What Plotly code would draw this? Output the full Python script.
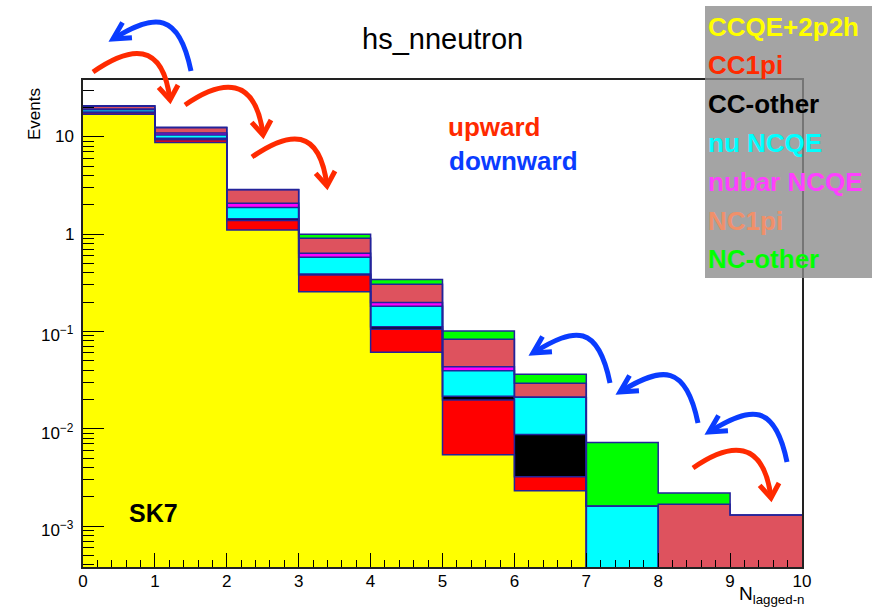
import math
import plotly.graph_objects as go

# ---------------- data ----------------
bin_edges = [0, 1, 2, 3, 4, 5, 6, 7, 8, 9, 10]
bin_centers = [0.5, 1.5, 2.5, 3.5, 4.5, 5.5, 6.5, 7.5, 8.5, 9.5]
ccqe_2p2h  = [17.0, 8.7, 1.10, 0.255, 0.061, 0.0054, 0.0023, 0, 0, 0]
cc1pi      = [0.6, 0.6, 0.28, 0.125, 0.044, 0.0143, 0.0009, 0, 0, 0]
cc_other   = [0.4, 0.35, 0.06, 0.008, 0.0065, 0.0019, 0.0055, 0, 0, 0]
nu_ncqe    = [0.9, 0.75, 0.43, 0.19, 0.070, 0.0178, 0.0124, 0.0016, 0, 0]
nubar_ncqe = [0.4, 0.55, 0.20, 0.057, 0.017, 0.0039, 0.0, 0, 0, 0]
nc1pi      = [1.3, 1.45, 0.78, 0.27, 0.107, 0.0395, 0.0082, 0, 0.00167, 0.0013]
nc_other   = [0.2, 0.1, 0.02, 0.09, 0.036, 0.0179, 0.0069, 0.0056, 0.00052, 0]

names = ["CCQE+2p2h", "CC1pi", "CC-other", "nu NCQE", "nubar NCQE", "NC1pi", "NC-other"]
series = [ccqe_2p2h, cc1pi, cc_other, nu_ncqe, nubar_ncqe, nc1pi, nc_other]
fill_colors = ["#ffff00", "#ff0000", "#000000", "#00ffff", "#ff00ff", "#de525e", "#00ff00"]
legend_colors = ["#ffff00", "#ff2a00", "#000000", "#00ffff", "#ff40ff", "#f0906a", "#00ff00"]

x_ticks = list(range(0, 11))
y_tickvals = [1e-3, 1e-2, 1e-1, 1, 10]
y_ticktext = ["10<sup>−3</sup>", "10<sup>−2</sup>", "10<sup>−1</sup>", "1", "10"]

# ---------------- layout geometry ----------------
W, H = 872, 613
ML, MR, MT, MB = 83, 70, 80, 46
PW = W - ML - MR
PH = H - MT - MB
EDGE = "#23239a"
FONT = "Liberation Sans, Arial, Helvetica, sans-serif"
LOG_FLOOR = 1e-9  # empty stack levels drop below the axis bottom


def px(x, y):
    return ((x - ML) / PW, (H - MB - y) / PH)


fig = go.Figure()
for name, vals, col in zip(names, series, fill_colors):
    fig.add_trace(go.Bar(
        x=bin_centers, y=vals, width=1.0, name=name, showlegend=False,
        marker=dict(color=col, line=dict(width=0)),
    ))

# ROOT-style step outlines of each cumulative histogram
cum = [0.0] * len(bin_centers)
for vals in series:
    cum = [c + v for c, v in zip(cum, vals)]
    ys = [c if c > 0 else LOG_FLOOR for c in cum]
    fig.add_trace(go.Scatter(
        x=bin_edges, y=ys + [ys[-1]], mode="lines", line=dict(shape="hv", color=EDGE, width=1.5),
        showlegend=False, hoverinfo="skip",
    ))

minor_y = [k * 10.0 ** e for e in range(-4, 2) for k in range(2, 10)]

fig.update_layout(
    width=W, height=H,
    margin=dict(l=ML, r=MR, t=MT, b=MB, pad=0),
    barmode="stack", bargap=0,
    plot_bgcolor="white", paper_bgcolor="white",
    font=dict(family=FONT, size=17, color="black"),
    xaxis=dict(
        range=[0, 10], tickvals=x_ticks, ticks="inside", ticklen=14,
        tickcolor="black", tickwidth=1, showgrid=False, zeroline=False,
        showline=True, linecolor="#222", linewidth=1.5, mirror=True,
        tickfont=dict(size=17), ticklabelstandoff=-2,
        minor=dict(dtick=0.2, tick0=0, ticks="inside", ticklen=7, tickcolor="black", tickwidth=1),
    ),
    yaxis=dict(
        type="log", range=[-3.421, 1.583], tickvals=y_tickvals, showticklabels=False,
        ticks="inside", ticklen=21, tickcolor="black", tickwidth=1,
        showgrid=False, zeroline=False, showline=True, linecolor="#222",
        linewidth=1.5, mirror=True,
        minor=dict(tickvals=minor_y, ticks="inside", ticklen=11, tickcolor="black", tickwidth=1),
    ),
)

shapes = []
# legend box
x0, y0 = px(705, 6)
x1, y1 = px(872, 278)
shapes.append(dict(type="rect", xref="paper", yref="paper", x0=x0, y0=y1, x1=x1, y1=y0,
                   fillcolor="rgba(140,140,140,0.79)", line=dict(width=0), layer="above"))


def norm(v):
    l = math.hypot(v[0], v[1])
    return (v[0] / l, v[1] / l)


def arrow(S, T, d0, d1, a, b, spread, hl, color):
    d0 = norm(d0)
    d1 = norm(d1)
    C1 = (S[0] + a * d0[0], S[1] + a * d0[1])
    C2 = (T[0] - b * d1[0], T[1] - b * d1[1])
    pts = [px(*S), px(*C1), px(*C2), px(*T)]
    path = "M {:.5f},{:.5f} C {:.5f},{:.5f} {:.5f},{:.5f} {:.5f},{:.5f}".format(
        *pts[0], *pts[1], *pts[2], *pts[3])
    shapes.append(dict(type="path", xref="paper", yref="paper", path=path,
                       line=dict(color=color, width=5), layer="above"))
    back = math.atan2(-d1[1], -d1[0])
    arms = []
    for s in (-1, 1):
        ang = back + s * math.radians(spread)
        arms.append((T[0] + hl * math.cos(ang), T[1] + hl * math.sin(ang)))
    a1, t, a2 = px(*arms[0]), px(*T), px(*arms[1])
    hpath = "M {:.5f},{:.5f} L {:.5f},{:.5f} L {:.5f},{:.5f}".format(*a1, *t, *a2)
    shapes.append(dict(type="path", xref="paper", yref="paper", path=hpath,
                       line=dict(color=color, width=5), layer="above"))


RED = "#ff2a00"
BLUE = "#0a3cff"
red_arrows = [((93, 72), (170, 100)), ((185, 105), (263, 135)),
              ((252, 157), (327, 186)), ((693, 468), (771, 498))]
blue_arrows = [((191, 71), (113, 39)), ((610, 383), (533, 353)),
               ((698, 423), (620, 392)), ((787, 462), (709, 432))]
for S, T in red_arrows:
    arrow(S, T, (0.82, -0.57), (0.12, 0.99), 45, 60, 35, 17, RED)
for S, T in blue_arrows:
    arrow(S, T, (-0.2, -0.98), (-0.85, 0.53), 60, 50, 28, 19, BLUE)

fig.update_layout(shapes=shapes)

ann = []

# y-axis tick labels, placed on the log axis at the tick values
for v, t in zip(y_tickvals, y_ticktext):
    ann.append(dict(xref="paper", yref="y", x=-7.0 / PW, y=math.log10(v), text=t,
                    showarrow=False, xanchor="right", yanchor="middle",
                    yshift=(-3 if "sup" in t else 0),
                    font=dict(family=FONT, size=17, color="black")))


def text(x, y, s, size, color, xanchor="left", bold=False, angle=0, yanchor="middle"):
    xp, yp = px(x, y)
    ann.append(dict(xref="paper", yref="paper", x=xp, y=yp, text=("<b>%s</b>" % s) if bold else s,
                    showarrow=False, xanchor=xanchor, yanchor=yanchor, textangle=angle,
                    font=dict(family=FONT, size=size, color=color)))


text(442, 39, "hs_nneutron", 29, "black", xanchor="center")
leg_y = [27, 65, 104, 143, 182, 221, 259]
for nm, col, yy in zip(names, legend_colors, leg_y):
    text(706, yy, nm, 26, col, bold=True)
text(446, 127, "upward", 26, RED, bold=True)
text(447, 161, "downward", 26, BLUE, bold=True)
text(127, 513, "SK7", 25, "black", bold=True)
text(34, 114, "Events", 17, "black", xanchor="center", angle=-90)
text(807, 595, "N<sub>lagged-n</sub>", 19, "black", xanchor="right")
fig.update_layout(annotations=ann)

fig.write_html("out.html", post_script="document.body.style.margin='0';",
               config={"displayModeBar": False})
